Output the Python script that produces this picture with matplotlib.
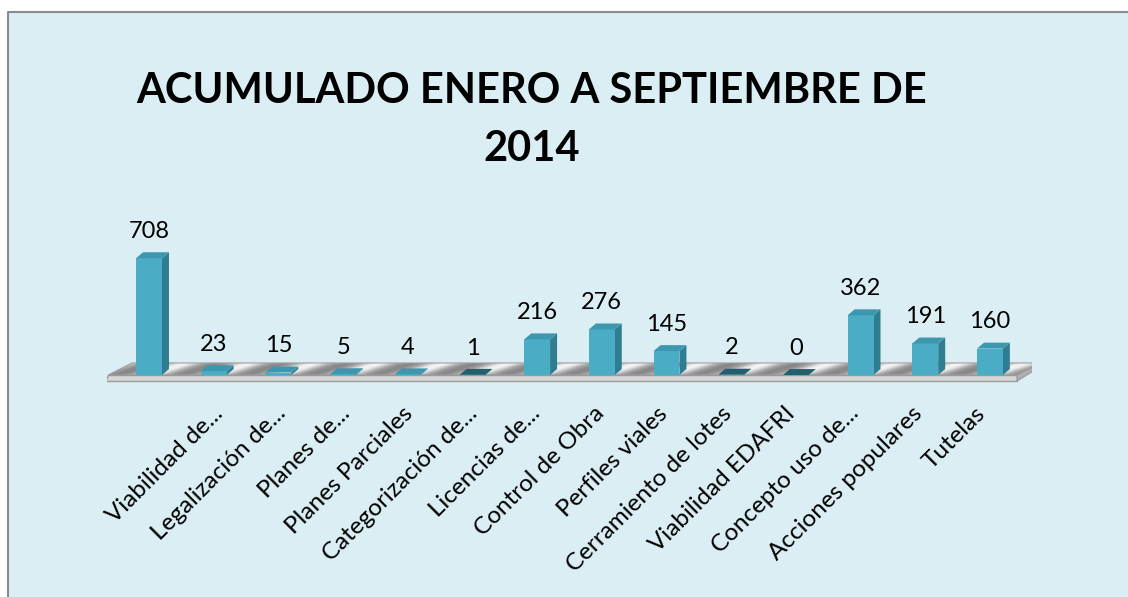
import matplotlib.pyplot as plt
import numpy as np
from matplotlib.patches import Polygon, Rectangle
from matplotlib.lines import Line2D
from matplotlib.colors import LinearSegmentedColormap
from matplotlib.transforms import ScaledTranslation

# datos del grafico (el primer valor no tiene etiqueta en el original)
categorias = ["", "Viabilidad de...", "Legalización de...", "Planes de...",
              "Planes Parciales", "Categorización de...", "Licencias de...",
              "Control de Obra", "Perfiles viales", "Cerramiento de lotes",
              "Viabilidad EDAFRI", "Concepto uso de...", "Acciones populares",
              "Tutelas"]
valores = [708, 23, 15, 5, 4, 1, 216, 276, 145, 2, 0, 362, 191, 160]
titulo = "ACUMULADO ENERO A SEPTIEMBRE DE\n2014"

FONT = "Lato"
fondo = "#DAEEF3"
frente = "#4BACC6"
lado = "#2F7D91"
arriba = "#3C97AF"

fig = plt.figure(figsize=(11.28, 5.97), dpi=100)
fig.patch.set_facecolor("white")
bx, by = 7.5 / 1128, 1 - 11.5 / 597
fig.patches.append(Rectangle((bx, -0.05), 1.2, by + 0.05, transform=fig.transFigure,
                             facecolor=fondo, edgecolor="none", zorder=-5))
fig.lines.append(Line2D([bx, bx, 1.2], [-0.05, by, by], transform=fig.transFigure,
                        color="#8C8C8C", lw=1.5, zorder=-4))

ax = fig.add_axes([0.09486, 0.35804, 0.82003, 0.2902])
ax.set_facecolor("none")
ax.set_xlim(-0.65, 13.65)
ax.set_ylim(-50, 1000)
for s in ax.spines.values():
    s.set_visible(False)
ax.set_yticks([])

n = len(valores)
x = np.arange(n)
w = 0.40
dx, dy = 0.108, 36

# piso 3D
fl_dx, fl_dy = 0.37, 73
x0, x1 = -0.634, 13.42
piso = Polygon([(x0, 0), (x1, 0), (x1 + fl_dx, fl_dy), (x0 + fl_dx, fl_dy)],
               closed=True, facecolor="none", edgecolor="#A0A0A0", lw=0.8, zorder=2)
ax.add_patch(piso)
gx = np.linspace(x0, x1 + fl_dx, 600)
gy = np.linspace(0, fl_dy, 20)
GX, GY = np.meshgrid(gx, gy)
patron = np.cos(2 * np.pi * (GX - 0.5 - 0.6 * GY / fl_dy))
cmap = LinearSegmentedColormap.from_list("piso", ["#F4F4F4", "#B0B0B0", "#888888"])
im = ax.imshow(patron, extent=(gx[0], gx[-1], 0, fl_dy), origin="lower",
               aspect="auto", cmap=cmap, zorder=1, interpolation="bilinear")
im.set_clip_path(piso)
ax.add_patch(Polygon([(x0, 0), (x1, 0), (x1, -36), (x0 - 0.05, -36)], closed=True,
                     facecolor="#D6D6D6", edgecolor="#9A9A9A", lw=1, zorder=2))
ax.add_patch(Polygon([(x1, 0), (x1 + fl_dx, fl_dy), (x1 + fl_dx, fl_dy - 20), (x1, -36)],
                     closed=True, facecolor="#B0B0B0", edgecolor="#9A9A9A", lw=0.8, zorder=2))

barras = ax.bar(x, valores, width=w, color=frente, zorder=4)
for b, v in zip(barras, valores):
    xl = b.get_x()
    xr = xl + b.get_width()
    ax.add_patch(Polygon([(xr, 0), (xr + dx, dy), (xr + dx, v + dy), (xr, v)],
                         closed=True, facecolor=lado, edgecolor="none", zorder=3))
    top_color = arriba if v > 2 else "#23606F"
    ax.add_patch(Polygon([(xl, v), (xr, v), (xr + dx, v + dy), (xl + dx, v + dy)],
                         closed=True, facecolor=top_color, edgecolor="none", zorder=5))
    ax.annotate(str(v), (b.get_x() + b.get_width() / 2, v + dy), xytext=(0, 15),
                textcoords="offset points", ha="center", va="center",
                fontsize=17, family=FONT, color="black")

ax.set_xticks(x)
ax.set_xticklabels(categorias, rotation=45, ha="right", va="top",
                   rotation_mode="anchor", fontsize=17.5, family=FONT)
ax.tick_params(axis="x", length=0, pad=14)
# perspectiva: las etiquetas se juntan un poco hacia la derecha
for i, lab in enumerate(ax.get_xticklabels()):
    shift = (-2 - 13 * (i - 1) / 12) / 100
    lab.set_transform(lab.get_transform() + ScaledTranslation(shift, 0, fig.dpi_scale_trans))

fig.text(532 / 1128, 1 - 120 / 597, titulo, ha="center", va="center",
         fontsize=30, fontweight="bold", family=FONT, linespacing=1.67)

fig.savefig("out.png", dpi=100, facecolor=fig.get_facecolor())
